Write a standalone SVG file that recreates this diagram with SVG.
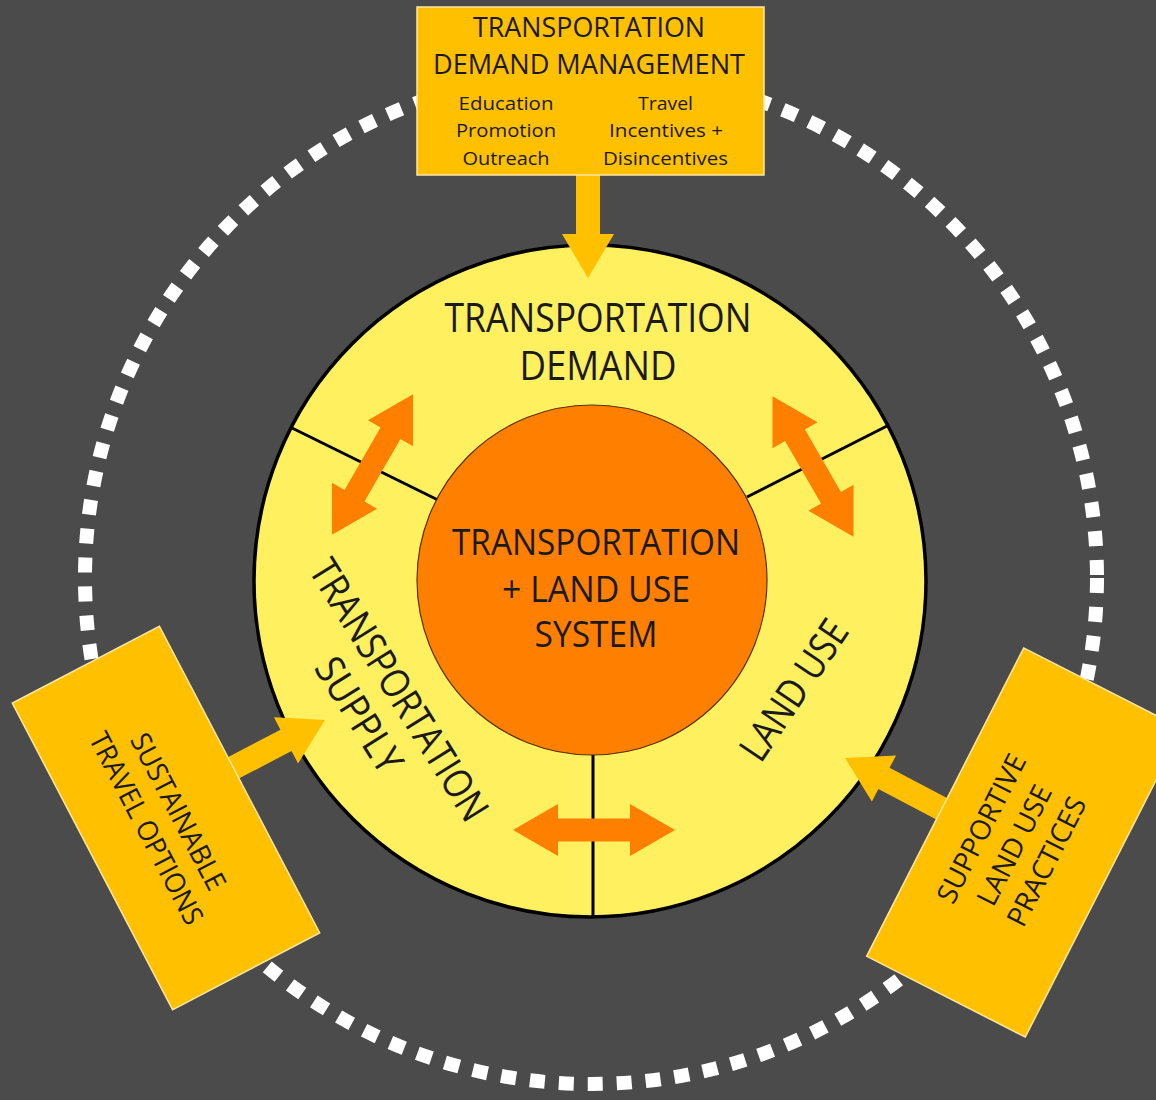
<svg xmlns="http://www.w3.org/2000/svg" width="1156" height="1100" viewBox="0 0 1156 1100">
  <style>
    .t { font-family: "Open Sans", "Noto Sans", "Liberation Sans", sans-serif; fill: #1a1a1a; text-anchor: middle; }
    .box { fill: #ffc000; stroke: #ffe7a3; stroke-width: 1.5; }
    .yarrow { fill: #ffc000; }
    .oarrow { fill: #ff7f00; }
    .divider { stroke: #000; stroke-width: 3; fill: none; }
  </style>
  <defs>
    <path id="dbl" d="M-81,0 L-36,-26 L-36,-11.5 L36,-11.5 L36,-26 L81,0 L36,26 L36,11.5 L-36,11.5 L-36,26 Z"/>
    <path id="single" d="M0,0 L-44,-26 L-44,-12 L-140,-12 L-140,12 L-44,12 L-44,26 Z"/>
  </defs>

  <rect x="0" y="0" width="1156" height="1100" fill="#4b4b4b"/>

  <g id="boundary">
    <circle cx="591" cy="578" r="506" fill="none" stroke="#ffffff" stroke-width="14" stroke-dasharray="15 14"/>
  </g>

  <g id="ring">
    <circle cx="590" cy="581" r="336" fill="#fff060" stroke="#000" stroke-width="3.5"/>
    <line class="divider" x1="292" y1="428" x2="438" y2="500"/>
    <line class="divider" x1="747" y1="497" x2="889" y2="425"/>
    <line class="divider" x1="593" y1="754" x2="593" y2="918"/>
  </g>

  <g id="demand">
    <text class="t" x="598" y="332" font-size="40" textLength="307" lengthAdjust="spacingAndGlyphs">TRANSPORTATION</text>
    <text class="t" x="598" y="380" font-size="40" textLength="157" lengthAdjust="spacingAndGlyphs">DEMAND</text>
  </g>

  <g id="supply" transform="translate(399,690) rotate(58)">
    <text class="t" x="0" y="14" font-size="40" textLength="300" lengthAdjust="spacingAndGlyphs">TRANSPORTATION</text>
    <text class="t" x="0" y="61" font-size="40" textLength="128" lengthAdjust="spacingAndGlyphs">SUPPLY</text>
  </g>

  <g id="landuse" transform="translate(794,690) rotate(-56)">
    <text class="t" x="0" y="14" font-size="40" textLength="160" lengthAdjust="spacingAndGlyphs">LAND USE</text>
  </g>

  <g id="system">
    <circle cx="592" cy="580" r="175" fill="#ff7f00" stroke="#5a3000" stroke-width="1.2"/>
    <text class="t" x="596" y="555" font-size="36" textLength="288" lengthAdjust="spacingAndGlyphs">TRANSPORTATION</text>
    <text class="t" x="596" y="602" font-size="36" textLength="188" lengthAdjust="spacingAndGlyphs">+ LAND USE</text>
    <text class="t" x="596" y="647" font-size="36" textLength="123" lengthAdjust="spacingAndGlyphs">SYSTEM</text>
  </g>

  <g id="connectors">
    <use href="#dbl" class="oarrow" transform="translate(372.5,464.5) rotate(-60)"/>
    <use href="#dbl" class="oarrow" transform="translate(813,466.5) rotate(60)"/>
    <use href="#dbl" class="oarrow" transform="translate(594,830)"/>
    <use href="#single" class="yarrow" transform="translate(588,278) rotate(90)"/>
    <use href="#single" class="yarrow" transform="translate(325,720) rotate(-27.6)"/>
    <use href="#single" class="yarrow" transform="translate(845,758) rotate(207.7)"/>
  </g>

  <g id="tdm">
    <rect class="box" x="417" y="7" width="347" height="168"/>
    <text class="t" x="589" y="37" font-size="27" textLength="232" lengthAdjust="spacingAndGlyphs">TRANSPORTATION</text>
    <text class="t" x="589" y="74" font-size="27" textLength="312" lengthAdjust="spacingAndGlyphs">DEMAND MANAGEMENT</text>
    <text class="t" x="506" y="110" font-size="19" textLength="95" lengthAdjust="spacingAndGlyphs">Education</text>
    <text class="t" x="506" y="137" font-size="19" textLength="100" lengthAdjust="spacingAndGlyphs">Promotion</text>
    <text class="t" x="506" y="165" font-size="19" textLength="87" lengthAdjust="spacingAndGlyphs">Outreach</text>
    <text class="t" x="665.5" y="110" font-size="19" textLength="55" lengthAdjust="spacingAndGlyphs">Travel</text>
    <text class="t" x="666" y="137" font-size="19" textLength="114" lengthAdjust="spacingAndGlyphs">Incentives +</text>
    <text class="t" x="665.5" y="165" font-size="19" textLength="125" lengthAdjust="spacingAndGlyphs">Disincentives</text>
  </g>

  <g id="sustainable" transform="translate(166,818) rotate(62.4)">
    <rect class="box" x="-173" y="-83" width="346" height="166"/>
    <text class="t" x="0" y="-4" font-size="28" textLength="173" lengthAdjust="spacingAndGlyphs">SUSTAINABLE</text>
    <text class="t" x="0" y="32" font-size="28" textLength="213" lengthAdjust="spacingAndGlyphs">TRAVEL OPTIONS</text>
  </g>

  <g id="supportive" transform="translate(1024.5,842.5) rotate(-63)">
    <rect class="box" x="-173" y="-89" width="346" height="178"/>
    <text class="t" x="-7" y="-35" font-size="28" textLength="163" lengthAdjust="spacingAndGlyphs">SUPPORTIVE</text>
    <text class="t" x="-7" y="2" font-size="28" textLength="131" lengthAdjust="spacingAndGlyphs">LAND USE</text>
    <text class="t" x="-7" y="38" font-size="28" textLength="141" lengthAdjust="spacingAndGlyphs">PRACTICES</text>
  </g>
</svg>
